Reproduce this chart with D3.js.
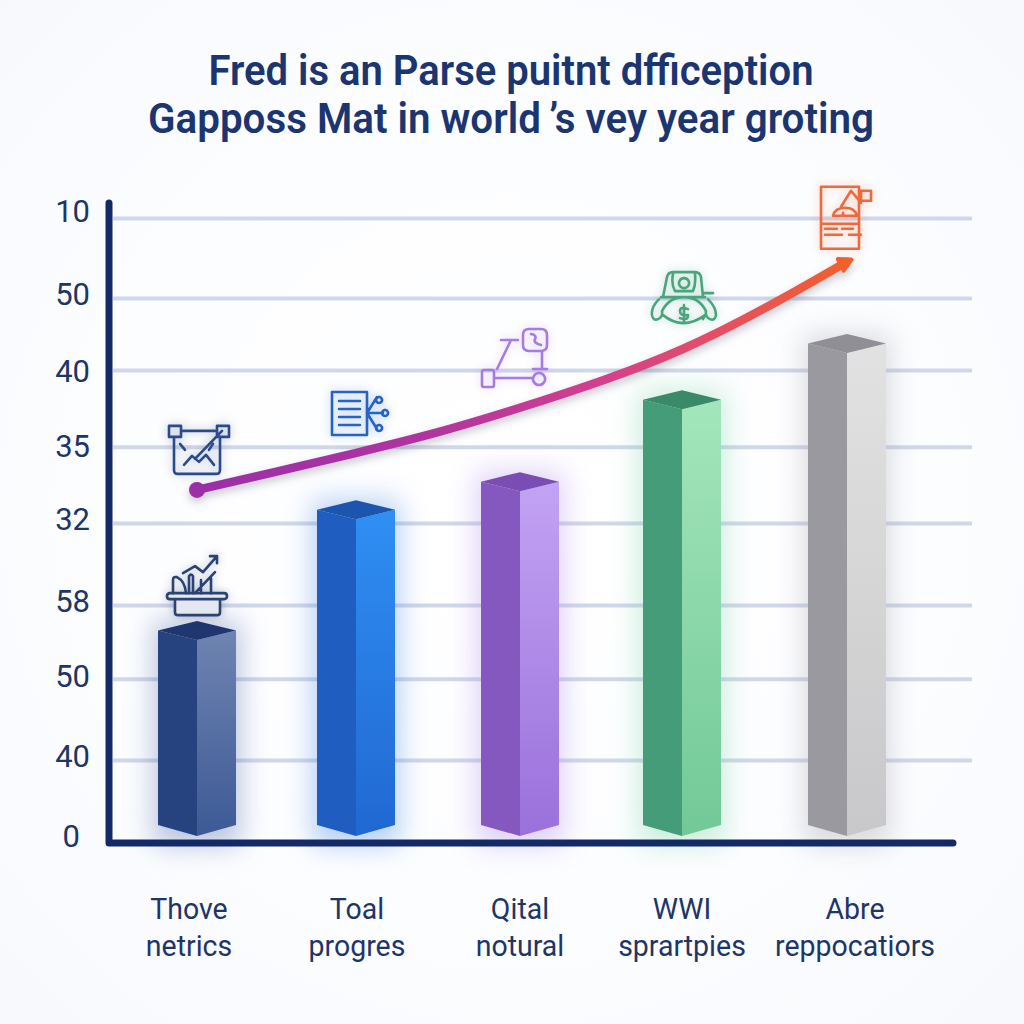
<!DOCTYPE html>
<html><head><meta charset="utf-8">
<script src="https://cdn.jsdelivr.net/npm/d3@7"></script>
<style>
html,body{margin:0;padding:0;background:#fbfcfe}
svg{display:block}
text{font-family:Roboto,"Noto Sans",sans-serif}
</style></head><body>
<svg id="c" width="1024" height="1024"></svg>
<script>
const titleLines = ["Fred is an Parse puitnt dffiception","Gapposs Mat in world\u2009\u2019s vey year groting"];
const titleWidths = [605,726];
const categories = ["Thove netrics","Toal progres","Qital notural","WWI sprartpies","Abre reppocatiors"];
const categoryLine1 = ["Thove","Toal","Qital","WWI","Abre"];
const categoryLine2 = ["netrics","progres","notural","sprartpies","reppocatiors"];
const barValues = [32.5,51.8,56.3,69.4,78.4];
const trendAt = [0,0.5,1,1.5,2,2.5,3,3.5,4];
const trendValues = [56.5,59.4,62.4,65.6,69.6,73.8,78.7,85.4,93];
const iconLevels = [62.9,68.8,77.6,86.7,100.2];
const iconNudge = [1,1,-5,-1,-2];
const extraIconLevel = 41.1;
const gridLevels = [100,87.2,75.7,63.4,51.2,38.1,26.3,13.3];
const tickLevels = [101.1,87.8,75.5,63.4,51.7,38.6,26.6,13.8,1.1];
const tickLabels = ["10","50","40","35","32","58","50","40","0"];
const barColors = [
 {left:"#27437f",top:"#1f3670",r1:"#6f84b0",r2:"#3d5a96",glow:"#3a5aa0"},
 {left:"#1f5dc0",top:"#1c55ad",r1:"#2f8ff2",r2:"#2068d2",glow:"#2f78e0"},
 {left:"#8558c0",top:"#7a4db5",r1:"#c2a3f3",r2:"#9b70db",glow:"#a27ce6"},
 {left:"#459c78",top:"#3a8a6a",r1:"#a3e6bb",r2:"#72c898",glow:"#6fcf9c"},
 {left:"#99999f",top:"#8f8f95",r1:"#e2e2e2",r2:"#c8c8ca",glow:"#9a9aa2"}
];
const iconColors = ["#2b4a8a","#2563c4","#a67ce0","#4aa57e","#ec6a3c"];

const svg = d3.select("#c");
const defs = svg.append("defs");
const W = 1024, H = 1024;

const y = d3.scaleLinear().domain([0,100]).range([843,218]);
const centers = [197,356,520,682,847];
const x = d3.scaleOrdinal().domain(categories).range(centers);
const xTrend = d3.scaleLinear().domain([0,1,2,3,4]).range(centers);
const xLabel = d3.scaleOrdinal().domain(categories).range([189,357,520,682,855]);
const barW = 78, capH = 9.5;

// background
const bg = defs.append("radialGradient").attr("id","bg").attr("cx","50%").attr("cy","50%").attr("r","72%");
bg.append("stop").attr("offset","0%").attr("stop-color","#ffffff");
bg.append("stop").attr("offset","60%").attr("stop-color","#fcfdff");
bg.append("stop").attr("offset","100%").attr("stop-color","#f6f8fc");
svg.append("rect").attr("width",W).attr("height",H).attr("fill","url(#bg)");

defs.append("filter").attr("id","blur").attr("x","-80%").attr("y","-30%").attr("width","260%").attr("height","160%")
  .append("feGaussianBlur").attr("stdDeviation",14);

// title
svg.append("g").selectAll("text").data(titleLines).join("text")
  .attr("x",511).attr("y",(d,i)=>85+i*48)
  .attr("text-anchor","middle").attr("font-size",42).attr("font-weight",600)
  .attr("textLength",(d,i)=>titleWidths[i]).attr("lengthAdjust","spacingAndGlyphs")
  .attr("fill","#1b3570").text(d=>d);

// grid
const grid = svg.append("g").attr("transform","translate(113,0)")
  .call(d3.axisRight(y).tickValues(gridLevels).tickSize(859).tickFormat(""));
grid.select(".domain").remove();
grid.selectAll("line").attr("stroke","#d0d7e9").attr("stroke-width",4);

// y tick labels
const yAxis = svg.append("g").attr("transform","translate(90,0)")
  .call(d3.axisLeft(y).tickValues(tickLevels).tickSize(0).tickPadding(0).tickFormat((d,i)=>tickLabels[i]));
yAxis.select(".domain").remove();
yAxis.selectAll("text").attr("font-size",31).attr("fill","#1e3566")
  .style("font-family","Roboto,sans-serif");
yAxis.selectAll(".tick text").attr("text-anchor","end");
yAxis.selectAll(".tick").filter((d,i)=>tickLabels[i]==="0").select("text").attr("dx",-10);

// bars
const rows = categories.map((c,i)=>({c,i,v:barValues[i],col:barColors[i]}));
rows.forEach(r=>{
  const g = defs.append("linearGradient").attr("id","r"+r.i).attr("x1",0).attr("y1",0).attr("x2",0).attr("y2",1);
  g.append("stop").attr("offset","0%").attr("stop-color",r.col.r1);
  g.append("stop").attr("offset","100%").attr("stop-color",r.col.r2);
});
const bars = svg.append("g").selectAll("g").data(rows).join("g");
bars.append("rect")
  .attr("x",d=>x(d.c)-barW/2-4).attr("width",barW+8)
  .attr("y",d=>y(d.v)-capH*2).attr("height",d=>y(0)-y(d.v)+capH*2+2)
  .attr("fill",d=>d.col.glow).attr("opacity",.36).attr("filter","url(#blur)");
const baseY = y(0)-7, baseSide = y(0)-18;
bars.append("path").attr("fill",d=>d.col.left).attr("d",d=>{
  const c=x(d.c),t=y(d.v);
  return `M${c-barW/2},${t-capH}L${c},${t}L${c},${baseY}L${c-barW/2},${baseSide}Z`;
});
bars.append("path").attr("fill",d=>`url(#r${d.i})`).attr("d",d=>{
  const c=x(d.c),t=y(d.v);
  return `M${c+barW/2},${t-capH}L${c},${t}L${c},${baseY}L${c+barW/2},${baseSide}Z`;
});
bars.append("path").attr("fill",d=>d.col.top).attr("d",d=>{
  const c=x(d.c),t=y(d.v);
  return `M${c-barW/2},${t-capH}L${c},${t-capH*2}L${c+barW/2},${t-capH}L${c},${t}Z`;
});

// axis lines
const axisG = svg.append("g").attr("fill","none").attr("stroke","#142a66").attr("stroke-width",7).attr("stroke-linecap","round").attr("stroke-linejoin","round");
axisG.append("path").attr("d",d3.line()([[109,203],[109,y(0)],[953,y(0)]]));

// trend line
const tg = defs.append("linearGradient").attr("id","trend").attr("gradientUnits","userSpaceOnUse")
  .attr("x1",197).attr("y1",0).attr("x2",850).attr("y2",0);
[[0,"#9a2fa8"],[.35,"#b0349f"],[.62,"#d43f8e"],[.82,"#e8505e"],[1,"#f2602a"]].forEach(s=>
  tg.append("stop").attr("offset",s[0]).attr("stop-color",s[1]));
const pts = trendAt.map((t,i)=>[xTrend(t),y(trendValues[i])]);
const trend = svg.append("g").style("filter","drop-shadow(0 4px 4px rgba(60,50,80,.28))");
trend.append("path").attr("fill","none").attr("stroke","url(#trend)").attr("stroke-width",8.5).attr("stroke-linecap","round")
  .attr("d",d3.line().curve(d3.curveBasis)(pts));
trend.append("circle").attr("cx",pts[0][0]).attr("cy",pts[0][1]).attr("r",8).attr("fill","#9a2fa8");
const e=pts[pts.length-1], a=Math.atan2(-33,66);
const hx=(l,w)=>[e[0]+Math.cos(a)*l-Math.sin(a)*w, e[1]+Math.sin(a)*l+Math.cos(a)*w];
trend.append("path").attr("fill","#f2602a").attr("stroke","#f2602a").attr("stroke-width",4).attr("stroke-linejoin","round")
  .attr("d",d3.line()([hx(5,0),hx(-7,-6.5),hx(-7,6.5)])+"Z");

// icons: outline glyphs drawn around a local origin
const iconPaths = [
 "M-29,-24h12v11h-12zM19,-24h12v11h-12zM-17,-19H19M-24,-13V20q0,4 4,4H18q4,0 4,-4V-13M-18,-6l5,6M15,-6l-4,6M-14,15l8,-9 7,6 7,-7 8,10M-3,9L24,-19",
 "M-25,-21H10V22H-25zM-18,-12H3M-18,-4H3M-18,4H3M-18,12H3M10,0L20,-16M10,0L20,16M10,0H26M22,-16a3,3 0 1,0 .1,0M22,12a3,3 0 1,0 .1,0M28,-3a3,3 0 1,0 .1,0",
 "M-31,12h8q2,0 2,2v13q0,2 -2,2h-8q-2,0 -2,-2v-13q0,-2 2,-2zM-21,20H18M24,15a6,6 0 1,0 .1,0M-18,11L-4,-18M-14,-18H3M14,-29h12q6,0 6,6v10q0,6 -6,6h-12q-6,0 -6,-6v-10q0,-6 6,-6zM27,-7V11M16,-24q6,1 4,5t6,6M18,11H32",
 "M-18,-4L-14,-24q1,-5 6,-5H14q5,0 6,5L22,-4M-20,-4H24M22,-8H32M-8,-27q-2,10 2,17H12q3,-7 2,-17M3,-23a5,5 0 1,0 .1,0M-22,-2Q-30,6 -29,14q1,6 6,4t4,-8Q-12,-4 3,-4t22,14q-1,6 4,8t6,-4Q35,6 27,-2M-18,14q20,16 42,0L22,18M3,4V22M7,8q-8,-3 -8,2t8,4q0,6 -8,3",
 "M-24,-30H14V32H-24zM-24,7H14M-20,12H-8M-3,12H8M-20,18H-3M4,18H16M-12,-1q2,-8 12,-8t12,8H-12M-4,-10L6,-26L16,-14M16,-26H26V-16H16zM-2,-4v3"
];
const icons = svg.append("g").attr("fill","none").attr("stroke-width",2.6).attr("stroke-linecap","round").attr("stroke-linejoin","round")
  .selectAll("g").data(rows).join("g")
  .attr("transform",d=>`translate(${x(d.c)+iconNudge[d.i]},${y(iconLevels[d.i])})`)
  .attr("stroke",d=>iconColors[d.i])
  .style("filter",d=>`drop-shadow(0 0 5px ${iconColors[d.i]}66)`);
icons.append("path").attr("d",d=>iconPaths[d.i]);

// basket icon above first bar
const basket = svg.append("g").attr("transform",`translate(${x(categories[0])},${y(extraIconLevel)})`)
  .attr("fill","none").attr("stroke","#2b4372").attr("stroke-width",2.6).attr("stroke-linecap","round").attr("stroke-linejoin","round")
  .style("filter","drop-shadow(0 0 4px #2b437255)");
basket.append("path").attr("fill","#e4e7f0").attr("d","M-27,7H27q3,0 3,3t-3,3H-27q-3,0 -3,-3t3,-3zM-22,13V26q0,3 3,3H20q3,0 3,-3V13");
basket.append("path").attr("d","M-24,7V-6q0,-4 4,-3q8,4 9,16M-8,7V-10q2,-3 4,0V7M4,7V-6M14,7V-8M-14,-13L-2,-20L6,-14L20,-30M13,-30H20V-23M-2,7L18,-14");

// category labels
const labels = svg.append("g").selectAll("text").data(rows).join("text")
  .attr("text-anchor","middle").attr("font-size",30).attr("fill","#1f3566")
  .attr("transform",d=>`translate(${xLabel(d.c)},919) scale(.95,1)`);
labels.append("tspan").attr("x",0).attr("y",0).text(d=>categoryLine1[d.i]);
labels.append("tspan").attr("x",0).attr("y",37).text(d=>categoryLine2[d.i]);
</script>
</body></html>
